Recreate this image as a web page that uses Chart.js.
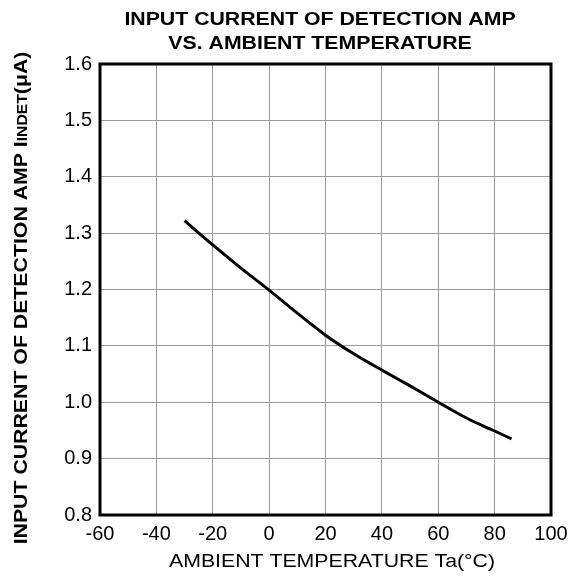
<!DOCTYPE html>
<html>
<head>
<meta charset="utf-8">
<script src="https://cdn.jsdelivr.net/npm/chart.js@4"></script>
<style>
  html, body { margin: 0; padding: 0; background: #fff; }
  #wrap { width: 569px; height: 583px; }
</style>
</head>
<body>
<div id="wrap"><canvas id="c" width="569" height="583"></canvas></div>
<script>
// Data
const temperatures = [-30, -20, -10, 0, 10, 20, 30, 40, 50, 60, 70, 80, 86];
const inputCurrent = [1.322, 1.279, 1.238, 1.199, 1.158, 1.119, 1.086, 1.057, 1.029, 1.000, 0.972, 0.949, 0.935];
const xTicks = [-60, -40, -20, 0, 20, 40, 60, 80, 100];
const yTicks = [0.8, 0.9, 1.0, 1.1, 1.2, 1.3, 1.4, 1.5, 1.6];
const titleLines = ["INPUT CURRENT OF DETECTION AMP", "VS. AMBIENT TEMPERATURE"];
const xTitle = "AMBIENT TEMPERATURE Ta(\u00B0C)";
const yTitleMain = "INPUT CURRENT OF DETECTION AMP I";
const yTitleSub = "INDET";
const yTitleEnd = "(\u03BCA)";

const FONT = "'Liberation Sans', Arial, Helvetica, sans-serif";

const textPlugin = {
  id: 'texts',
  afterDraw(chart) {
    const ctx = chart.ctx;
    const a = chart.chartArea;
    ctx.save();
    // frame
    ctx.strokeStyle = '#000';
    ctx.lineWidth = 3;
    ctx.strokeRect(a.left, a.top, a.right - a.left, a.bottom - a.top);
    ctx.fillStyle = '#000';
    ctx.textAlign = 'center';
    ctx.textBaseline = 'middle';
    // main title (slightly widened like the reference)
    ctx.font = 'bold 18.5px ' + FONT;
    titleLines.forEach((t, i) => {
      ctx.save();
      ctx.translate(320, 20 + i * 24);
      ctx.scale(1.15, 1);
      ctx.fillText(t, 0, 0);
      ctx.restore();
    });
    // x axis title
    ctx.save();
    ctx.font = '18.5px ' + FONT;
    ctx.translate(332, 562);
    ctx.scale(1.15, 1);
    ctx.fillText(xTitle, 0, 0);
    ctx.restore();
    // y axis title (rotated, with subscript)
    ctx.save();
    ctx.translate(27, 298);
    ctx.rotate(-Math.PI / 2);
    ctx.scale(1.12, 1);
    ctx.textAlign = 'left';
    ctx.textBaseline = 'alphabetic';
    const big = 'bold 19px ' + FONT;
    const small = 'bold 14px ' + FONT;
    ctx.font = big; const w1 = ctx.measureText(yTitleMain).width;
    const w3 = ctx.measureText(yTitleEnd).width;
    ctx.font = small; const w2 = ctx.measureText(yTitleSub).width;
    let x = -(w1 + w2 + w3) / 2;
    ctx.font = big; ctx.fillText(yTitleMain, x, 0); x += w1;
    ctx.font = small; ctx.fillText(yTitleSub, x, 0); x += w2;
    ctx.font = big; ctx.fillText(yTitleEnd, x, 0);
    ctx.restore();
    ctx.restore();
  }
};

new Chart(document.getElementById('c'), {
  type: 'scatter',
  data: {
    datasets: [{
      data: temperatures.map((t, i) => ({ x: t, y: inputCurrent[i] })),
      showLine: true,
      borderColor: '#000',
      borderWidth: 3,
      pointRadius: 0,
      tension: 0.4,
      cubicInterpolationMode: 'monotone',
      fill: false
    }]
  },
  options: {
    responsive: false,
    animation: false,
    devicePixelRatio: 1,
    layout: { padding: { top: 64, right: 18, left: 0, bottom: 0 } },
    plugins: { legend: { display: false }, tooltip: { enabled: false }, title: { display: false } },
    scales: {
      x: {
        type: 'linear',
        min: xTicks[0], max: xTicks[xTicks.length - 1],
        afterBuildTicks: s => { s.ticks = xTicks.map(v => ({ value: v })); },
        afterFit: s => { s.height = 68; s.paddingLeft = 0; s.paddingRight = 0; },
        grid: { color: '#9a9a9a', lineWidth: 1, drawTicks: false },
        border: { display: false },
        ticks: { color: '#000', font: { size: 20, family: FONT }, padding: 7, maxRotation: 0, callback: v => String(v) }
      },
      y: {
        type: 'linear',
        min: yTicks[0], max: yTicks[yTicks.length - 1],
        afterBuildTicks: s => { s.ticks = yTicks.map(v => ({ value: v })); },
        afterFit: s => { s.width = 100; s.paddingTop = 0; s.paddingBottom = 0; },
        grid: { color: '#9a9a9a', lineWidth: 1, drawTicks: false },
        border: { display: false },
        ticks: { color: '#000', font: { size: 20, family: FONT }, padding: 8, callback: v => Number(v).toFixed(1) }
      }
    }
  },
  plugins: [textPlugin]
});
</script>
</body>
</html>
